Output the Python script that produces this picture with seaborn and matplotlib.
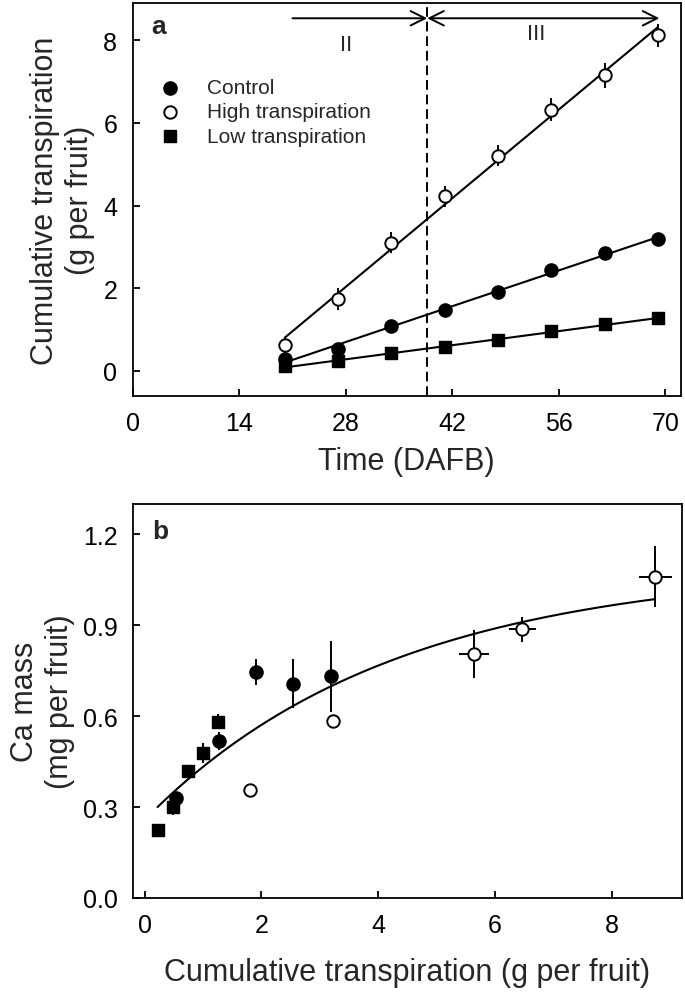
import numpy as np
import pandas as pd
import matplotlib
matplotlib.use('Agg')
import matplotlib.pyplot as plt
import seaborn as sns

# ---- panel a: cumulative transpiration over time ----
days = [20, 27, 34, 41, 48, 55, 62, 69]
control_a = [0.28, 0.54, 1.09, 1.47, 1.90, 2.45, 2.84, 3.19]
high_a = [0.63, 1.74, 3.10, 4.22, 5.21, 6.32, 7.15, 8.12]
high_a_err = [0.20, 0.26, 0.26, 0.25, 0.25, 0.28, 0.30, 0.28]
low_a = [0.12, 0.23, 0.43, 0.57, 0.74, 0.97, 1.13, 1.27]
stage_split = 38.7

# ---- panel b: Ca mass vs cumulative transpiration ----
control_x = [0.54, 1.27, 1.90, 2.54, 3.19]
control_y = [0.33, 0.518, 0.746, 0.707, 0.732]
control_yerr = [0.02, 0.03, 0.042, 0.081, 0.117]
high_x = [1.80, 3.22, 5.64, 6.47, 8.75]
high_y = [0.355, 0.583, 0.805, 0.886, 1.06]
high_xerr = [0.0, 0.0, 0.26, 0.23, 0.28]
high_yerr = [0.0, 0.0, 0.08, 0.04, 0.10]
low_x = [0.22, 0.49, 0.74, 1.00, 1.26]
low_y = [0.223, 0.30, 0.418, 0.478, 0.581]
low_yerr = [0.0, 0.025, 0.01, 0.033, 0.025]
# fitted curve y = fit_a - fit_b * exp(-fit_k * x)
fit_a, fit_b, fit_k = 1.093, 0.835, 0.235
fit_range = (0.22, 8.73)

sns.set_theme(style='ticks')
plt.rcParams['font.family'] = ['Liberation Sans', 'DejaVu Sans']
plt.rcParams['axes.linewidth'] = 1.3

styles = {
    'Control': dict(marker='o', s=90, color='black', edgecolor='black', linewidth=1.0),
    'High transpiration': dict(marker='o', s=80, color='white', edgecolor='black', linewidth=1.4),
    'Low transpiration': dict(marker='s', s=72, color='black', edgecolor='black', linewidth=1.0),
}


def style_axes(ax):
    for sp in ax.spines.values():
        sp.set_visible(True)
        sp.set_linewidth(1.3)
        sp.set_color('black')
    ax.tick_params(direction='in', length=5, width=1.3, labelsize=18, pad=11,
                   top=False, right=False, colors='black')


fig = plt.figure(figsize=(6.85, 9.95), dpi=100)
ax_a = fig.add_axes([0.1936, 0.6013, 0.8001, 0.3947])
ax_b = fig.add_axes([0.1942, 0.0965, 0.8010, 0.3960])

# panel a
series_a = [('Control', control_a, None), ('High transpiration', high_a, high_a_err),
            ('Low transpiration', low_a, None)]
for name, vals, err in series_a:
    sns.regplot(x=days, y=vals, ax=ax_a, scatter=False, ci=None, color='black',
                line_kws={'lw': 1.5, 'zorder': 2})
    if err is not None:
        ax_a.errorbar(days, vals, yerr=err, fmt='none', ecolor='black', elinewidth=1.4,
                      capsize=0, zorder=2.5)
for name, vals, err in series_a:
    sns.scatterplot(x=days, y=vals, ax=ax_a, label=name, zorder=3, **styles[name])

ax_a.axvline(stage_split, color='black', lw=1.4, ls=(0, (5, 2.5)), zorder=1)
ax_a.annotate('', xy=(stage_split, 8.53), xytext=(21, 8.53),
              arrowprops=dict(arrowstyle='->', lw=1.4, color='black', mutation_scale=26,
                              shrinkA=0, shrinkB=0))
ax_a.annotate('', xy=(69.2, 8.53), xytext=(stage_split, 8.53),
              arrowprops=dict(arrowstyle='<->', lw=1.4, color='black', mutation_scale=26,
                              shrinkA=0, shrinkB=0))
ax_a.text(28, 7.9, 'II', fontsize=16, ha='center', va='center')
ax_a.text(53, 8.15, 'III', fontsize=16, ha='center', va='center')
ax_a.text(0.048, 0.941, 'a', transform=ax_a.transAxes, fontsize=19, fontweight='bold',
          ha='center', va='center')

ax_a.set_xlim(0, 72)
ax_a.set_ylim(-0.6, 8.9)
ax_a.set_xticks([0, 14, 28, 42, 56, 70])
ax_a.set_yticks([0, 2, 4, 6, 8])
ax_a.set_xlabel('Time (DAFB)', fontsize=22, labelpad=8)
ax_a.set_ylabel('Cumulative transpiration\n(g per fruit)', fontsize=22, labelpad=6)
style_axes(ax_a)
ax_a.legend(loc='upper left', bbox_to_anchor=(0.03, 0.835), frameon=False, fontsize=15,
            handlelength=1.0, handletextpad=1.3, labelspacing=0.25, borderpad=0)

# panel b
xs = np.linspace(fit_range[0], fit_range[1], 200)
ax_b.plot(xs, fit_a - fit_b * np.exp(-fit_k * xs), color='black', lw=1.5, zorder=2)
ax_b.errorbar(control_x, control_y, yerr=control_yerr, fmt='none', ecolor='black',
              elinewidth=1.4, capsize=0, zorder=2.5)
ax_b.errorbar(high_x, high_y, xerr=high_xerr, yerr=high_yerr, fmt='none', ecolor='black',
              elinewidth=1.4, capsize=0, zorder=2.5)
ax_b.errorbar(low_x, low_y, yerr=low_yerr, fmt='none', ecolor='black',
              elinewidth=1.4, capsize=0, zorder=2.5)
sns.scatterplot(x=control_x, y=control_y, ax=ax_b, zorder=3, **styles['Control'])
sns.scatterplot(x=high_x, y=high_y, ax=ax_b, zorder=3, **styles['High transpiration'])
sns.scatterplot(x=low_x, y=low_y, ax=ax_b, zorder=3, **styles['Low transpiration'])
ax_b.text(0.049, 0.932, 'b', transform=ax_b.transAxes, fontsize=19, fontweight='bold',
          ha='center', va='center')

ax_b.set_xlim(-0.2, 9.2)
ax_b.set_ylim(0, 1.3)
ax_b.set_xticks([0, 2, 4, 6, 8])
ax_b.set_yticks([0.0, 0.3, 0.6, 0.9, 1.2])
ax_b.yaxis.set_major_formatter(matplotlib.ticker.FormatStrFormatter('%.1f'))
ax_b.set_xlabel('Cumulative transpiration (g per fruit)', fontsize=22, labelpad=14)
ax_b.set_ylabel('Ca mass\n(mg per fruit)', fontsize=22, labelpad=6)
style_axes(ax_b)

fig.savefig('out.png', dpi=100)
